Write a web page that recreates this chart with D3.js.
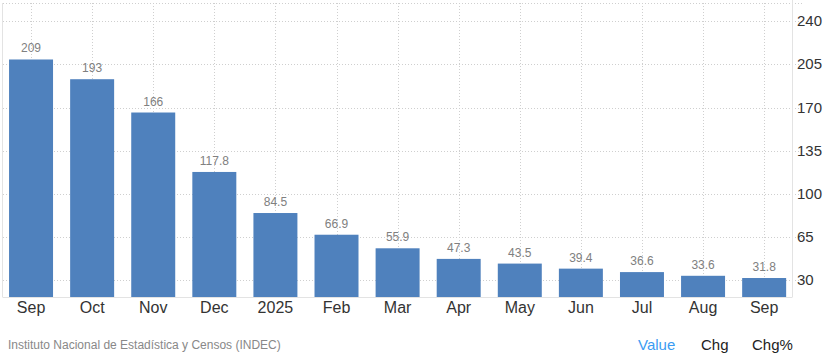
<!DOCTYPE html>
<html>
<head>
<meta charset="utf-8">
<script src="https://cdn.jsdelivr.net/npm/d3@7"></script>
<style>
  html, body { margin: 0; padding: 0; background: #fff; }
  svg { display: block; font-family: Arial, "Liberation Sans", sans-serif; }
</style>
</head>
<body>
<svg id="chart" width="837" height="362"></svg>
<script>
const months = ["Sep","Oct","Nov","Dec","2025","Feb","Mar","Apr","May","Jun","Jul","Aug","Sep"];
const values = [209, 193, 166, 117.8, 84.5, 66.9, 55.9, 47.3, 43.5, 39.4, 36.6, 33.6, 31.8];
const valueLabels = ["209","193","166","117.8","84.5","66.9","55.9","47.3","43.5","39.4","36.6","33.6","31.8"];
const yTicks = [30, 65, 100, 135, 170, 205, 240];
const sourceText = "Instituto Nacional de Estadística y Censos (INDEC)";
const tabs = ["Value", "Chg", "Chg%"];

const svg = d3.select("#chart");
const plot = { left: 3, right: 792, top: 3, bottom: 297.5 };

const keys = months.map((m, i) => i);
const x = d3.scaleBand().domain(keys).range([0.5, 794.7]).paddingInner(0.28).paddingOuter(0.14);
const y = d3.scaleLinear().domain([16, 254.8]).range([plot.bottom, plot.top]);

const grid = svg.append("g");
grid.selectAll("line.h").data(yTicks).join("line")
  .attr("x1", plot.left).attr("x2", 802)
  .attr("y1", d => Math.round(y(d)) + 0.5).attr("y2", d => Math.round(y(d)) + 0.5)
  .attr("stroke", "#cfcfcf").attr("stroke-dasharray", "1,2");
grid.append("line").attr("x1", plot.left).attr("x2", 802).attr("y1", 3.5).attr("y2", 3.5)
  .attr("stroke", "#cfcfcf").attr("stroke-dasharray", "1,2");
grid.selectAll("line.v").data(keys).join("line")
  .attr("x1", d => Math.round(x(d) + x.bandwidth() / 2) + 0.5)
  .attr("x2", d => Math.round(x(d) + x.bandwidth() / 2) + 0.5)
  .attr("y1", plot.top).attr("y2", plot.bottom)
  .attr("stroke", "#cfcfcf").attr("stroke-dasharray", "1,2");

svg.append("g").selectAll("rect").data(keys).join("rect")
  .attr("x", d => x(d)).attr("width", x.bandwidth())
  .attr("y", d => y(values[d])).attr("height", d => plot.bottom - y(values[d]))
  .attr("fill", "#4f81bd");

svg.append("g").selectAll("text").data(keys).join("text")
  .attr("x", d => x(d) + x.bandwidth() / 2)
  .attr("y", d => y(values[d]) - 7)
  .attr("text-anchor", "middle")
  .attr("font-size", 12).attr("fill", "#808080")
  .text(d => valueLabels[d]);

svg.append("line").attr("x1", 2.5).attr("x2", 2.5).attr("y1", plot.top).attr("y2", plot.bottom)
  .attr("stroke", "#e3e3e3");
svg.append("line").attr("x1", 792.5).attr("x2", 792.5).attr("y1", 0).attr("y2", plot.bottom)
  .attr("stroke", "#e3e3e3");
svg.append("line").attr("x1", plot.left).attr("x2", 792).attr("y1", 297.5).attr("y2", 297.5)
  .attr("stroke", "#e3e3e3");

const xAxis = d3.axisBottom(x).tickSize(0).tickPadding(0).tickFormat(i => months[i]);
const gx = svg.append("g").attr("transform", "translate(0,298)").call(xAxis);
gx.select(".domain").remove();
gx.selectAll("text").attr("font-size", 16).attr("fill", "#333").attr("dy", null).attr("y", 15)
  .attr("font-family", "Arial, 'Liberation Sans', sans-serif");

const yAxis = d3.axisRight(y).tickValues(yTicks).tickSize(0).tickPadding(0);
const gy = svg.append("g").attr("transform", "translate(797,0)").call(yAxis);
gy.select(".domain").remove();
gy.selectAll("text").attr("font-size", 15).attr("fill", "#333").attr("dy", "0.3em")
  .attr("x", 0).attr("font-family", "Arial, 'Liberation Sans', sans-serif");

svg.append("text").attr("x", 8).attr("y", 348.5).attr("font-size", 12).attr("fill", "#888")
  .text(sourceText);
const tabX = [638, 701, 752];
const tabColor = ["#3b9cf2", "#222", "#222"];
svg.append("g").selectAll("text").data(tabs).join("text")
  .attr("x", (d, i) => tabX[i]).attr("y", 350)
  .attr("font-size", 15).attr("fill", (d, i) => tabColor[i])
  .text(d => d);
</script>
</body>
</html>
